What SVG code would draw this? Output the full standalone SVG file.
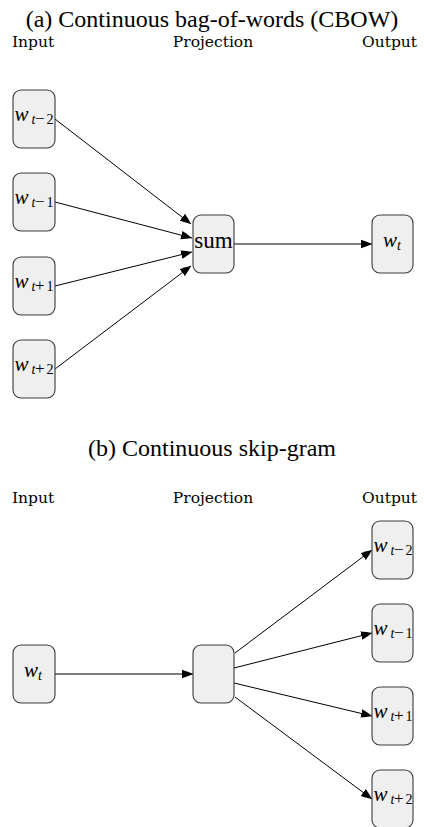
<svg xmlns="http://www.w3.org/2000/svg" width="424" height="827" viewBox="0 0 424 827">
<style>
.title{font-family:"Liberation Serif","Times New Roman",serif;font-size:24px;fill:#000;text-anchor:middle}
.col{font-family:"DejaVu Serif",serif;font-size:15.5px;fill:#000;text-anchor:middle}
.box{fill:#efefef;stroke:#3a3a3a;stroke-width:1.1}
.mi{font-family:"Liberation Serif","Times New Roman",serif;font-style:italic;fill:#000}
.mr{font-family:"Liberation Serif","Times New Roman",serif;fill:#000}
.w{font-size:21px}
.s{font-size:14px}
.m{font-size:17px}
.edge{stroke:#000;stroke-width:1;fill:none;marker-end:url(#arr)}
</style>
<defs>
<marker id="arr" markerUnits="userSpaceOnUse" markerWidth="12" markerHeight="10" viewBox="0 -5 12 10" refX="11" refY="0" orient="auto">
<path d="M0,-4.3 Q6,-2.4 11,0 Q6,2.4 0,4.3 Z" fill="#000"/>
</marker>
</defs>

<text class="title" x="212" y="27">(a) Continuous bag-of-words (CBOW)</text>
<text class="col" x="33" y="46.5">Input</text>
<text class="col" x="213" y="46.5">Projection</text>
<text class="col" x="389.5" y="46.5">Output</text>

<g id="connectors-a">
<line class="edge" x1="55" y1="119" x2="191" y2="224"/>
<line class="edge" x1="55" y1="202" x2="192" y2="238"/>
<line class="edge" x1="55" y1="286" x2="192" y2="252"/>
<line class="edge" x1="55" y1="369" x2="191" y2="266"/>
<line class="edge" x1="234" y1="244" x2="372" y2="244"/>
</g>

<g id="a-in-wt-2">
<rect class="box" x="13" y="90" width="42" height="58" rx="8"/>
<text y="120.5"><tspan class="mi w" x="14.5">w</tspan><tspan class="mi s" x="31.5" y="124">t</tspan><tspan class="mr m" x="35" y="124">−</tspan><tspan class="mr s" x="46.5" y="124">2</tspan></text>
</g>
<g id="a-in-wt-1">
<rect class="box" x="13" y="173" width="42" height="58" rx="8"/>
<text y="203.5"><tspan class="mi w" x="14.5">w</tspan><tspan class="mi s" x="31.5" y="207">t</tspan><tspan class="mr m" x="35" y="207">−</tspan><tspan class="mr s" x="46.5" y="207">1</tspan></text>
</g>
<g id="a-in-wt+1">
<rect class="box" x="13" y="257" width="42" height="58" rx="8"/>
<text y="287.5"><tspan class="mi w" x="14.5">w</tspan><tspan class="mi s" x="31.5" y="291">t</tspan><tspan class="mr m" x="35" y="291">+</tspan><tspan class="mr s" x="46.5" y="291">1</tspan></text>
</g>
<g id="a-in-wt+2">
<rect class="box" x="13" y="340" width="42" height="58" rx="8"/>
<text y="370.5"><tspan class="mi w" x="14.5">w</tspan><tspan class="mi s" x="31.5" y="374">t</tspan><tspan class="mr m" x="35" y="374">+</tspan><tspan class="mr s" x="46.5" y="374">2</tspan></text>
</g>
<g id="a-sum">
<rect class="box" x="193" y="215" width="41" height="58" rx="8"/>
<text class="mr" x="213.5" y="248" font-size="23" text-anchor="middle">sum</text>
</g>
<g id="a-out-wt">
<rect class="box" x="372" y="215" width="41" height="58" rx="8"/>
<text y="247"><tspan class="mi w" x="383">w</tspan><tspan class="mi s" x="397" y="250">t</tspan></text>
</g>

<text class="title" x="212" y="456">(b) Continuous skip-gram</text>
<text class="col" x="33" y="502.5">Input</text>
<text class="col" x="213" y="502.5">Projection</text>
<text class="col" x="389.5" y="502.5">Output</text>

<g id="connectors-b">
<line class="edge" x1="55" y1="674" x2="193" y2="674"/>
<line class="edge" x1="235" y1="653" x2="372" y2="550"/>
<line class="edge" x1="234" y1="668" x2="372" y2="633"/>
<line class="edge" x1="234" y1="683" x2="372" y2="716"/>
<line class="edge" x1="235" y1="697" x2="372" y2="799"/>
</g>

<g id="b-in-wt">
<rect class="box" x="13" y="645" width="42" height="58" rx="8"/>
<text y="677"><tspan class="mi w" x="24">w</tspan><tspan class="mi s" x="38" y="680">t</tspan></text>
</g>
<g id="b-proj">
<rect class="box" x="193" y="645" width="41" height="58" rx="8"/>
</g>
<g id="b-out-wt-2">
<rect class="box" x="372" y="521" width="41" height="58" rx="8"/>
<text y="551.5"><tspan class="mi w" x="373.5">w</tspan><tspan class="mi s" x="390.5" y="555">t</tspan><tspan class="mr m" x="394" y="555">−</tspan><tspan class="mr s" x="405.5" y="555">2</tspan></text>
</g>
<g id="b-out-wt-1">
<rect class="box" x="372" y="604" width="41" height="58" rx="8"/>
<text y="634.5"><tspan class="mi w" x="373.5">w</tspan><tspan class="mi s" x="390.5" y="638">t</tspan><tspan class="mr m" x="394" y="638">−</tspan><tspan class="mr s" x="405.5" y="638">1</tspan></text>
</g>
<g id="b-out-wt+1">
<rect class="box" x="372" y="687" width="41" height="58" rx="8"/>
<text y="717.5"><tspan class="mi w" x="373.5">w</tspan><tspan class="mi s" x="390.5" y="721">t</tspan><tspan class="mr m" x="394" y="721">+</tspan><tspan class="mr s" x="405.5" y="721">1</tspan></text>
</g>
<g id="b-out-wt+2">
<rect class="box" x="372" y="770" width="41" height="58" rx="8"/>
<text y="800.5"><tspan class="mi w" x="373.5">w</tspan><tspan class="mi s" x="390.5" y="804">t</tspan><tspan class="mr m" x="394" y="804">+</tspan><tspan class="mr s" x="405.5" y="804">2</tspan></text>
</g>
</svg>
